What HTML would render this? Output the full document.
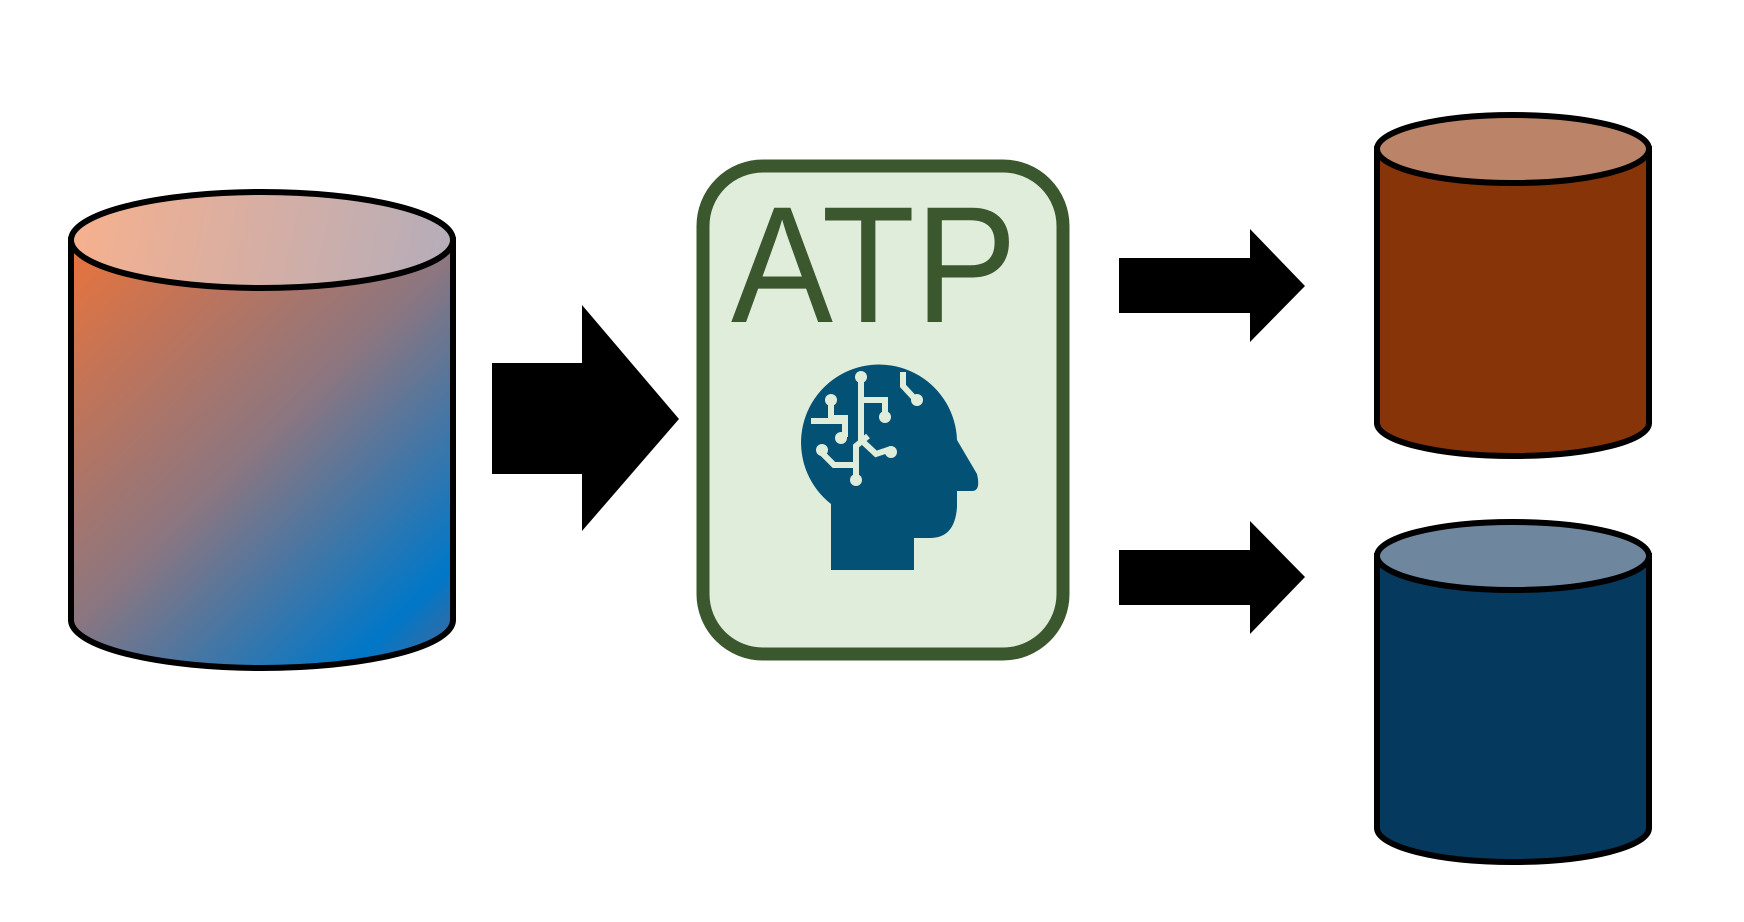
<!DOCTYPE html>
<html><head><style>html,body{margin:0;padding:0;background:#fff;}svg{display:block;}</style></head>
<body>
<svg width="1744" height="922" viewBox="0 0 1744 922" xmlns="http://www.w3.org/2000/svg">
<defs>
<linearGradient id="gb" x1="69" y1="240" x2="456" y2="640" gradientUnits="userSpaceOnUse">
<stop offset="0" stop-color="#ea733a"/><stop offset="0.5" stop-color="#8c7680"/><stop offset="0.9" stop-color="#0077c8"/><stop offset="1" stop-color="#3a6aa0"/>
</linearGradient>
<linearGradient id="gt" x1="80" y1="200" x2="440" y2="280" gradientUnits="userSpaceOnUse">
<stop offset="0" stop-color="#f6b08e"/><stop offset="1" stop-color="#b6adb9"/>
</linearGradient>
</defs>
<path d="M71,240 L71,620 A191,48 0 0 0 453,620 L453,240 Z" fill="url(#gb)" stroke="#000" stroke-width="6"/>
<ellipse cx="262" cy="240" rx="191" ry="48" fill="url(#gt)" stroke="#000" stroke-width="6"/>
<polygon points="492,363 582,363 582,305 679,419 582,531 582,474 492,474" fill="#000"/>
<g transform="translate(-4,0)">
<rect x="707" y="166" width="360" height="488" rx="60" fill="#e0eddb" stroke="#3a572d" stroke-width="13"/>
<text x="735" y="322" font-family="Liberation Sans, sans-serif" font-size="166" fill="#3a572d" textLength="286" lengthAdjust="spacingAndGlyphs">ATP</text>
</g>
<path d="M831,570 L831,504 A78,78 0 1 1 957,440 L977,474 Q981,491 972,491 L957,491 L957,507 Q955,538 930,538 L914,538 L914,570 Z" fill="#035276"/>
<g stroke="#e0eddb" stroke-width="6" fill="none">
<path d="M861,376 L861,440 L876,454 L891,449"/>
<path d="M861,400 L885,400 L885,419"/>
<path d="M831,402 L831,418 L845,418 L845,437"/>
<path d="M811,421 L845,421"/>
<path d="M821,452 L834,465 L856,465 L856,480"/>
<path d="M856,465 L856,446 L868,436"/>
<path d="M903,372 L903,386 L916,400"/>
</g>
<g fill="#e0eddb">
<circle cx="861" cy="377" r="6"/><circle cx="885" cy="417" r="6"/><circle cx="831" cy="400" r="6"/>
<circle cx="841" cy="438" r="6"/><circle cx="822" cy="450" r="6"/><circle cx="856" cy="480" r="6"/>
<circle cx="891" cy="452" r="6"/><circle cx="917" cy="400" r="6"/>
</g>
<g transform="translate(-6,0)">
<polygon points="1125,258 1256,258 1256,229 1311,286 1256,342 1256,313 1125,313" fill="#000"/>
<polygon points="1125,550 1256,550 1256,521 1311,577 1256,634 1256,605 1125,605" fill="#000"/>
</g>
<g transform="translate(-8,0)">
<path d="M1385,149 L1385,423 A136,33 0 0 0 1657,423 L1657,149 Z" fill="#873409" stroke="#000" stroke-width="6"/>
<ellipse cx="1521" cy="149" rx="136" ry="34" fill="#bb8468" stroke="#000" stroke-width="6"/>
<path d="M1385,556 L1385,828 A136,34 0 0 0 1657,828 L1657,556 Z" fill="#053a5e" stroke="#000" stroke-width="6"/>
<ellipse cx="1521" cy="556" rx="136" ry="34" fill="#6f879e" stroke="#000" stroke-width="6"/>
</g>
</svg>
</body></html>
